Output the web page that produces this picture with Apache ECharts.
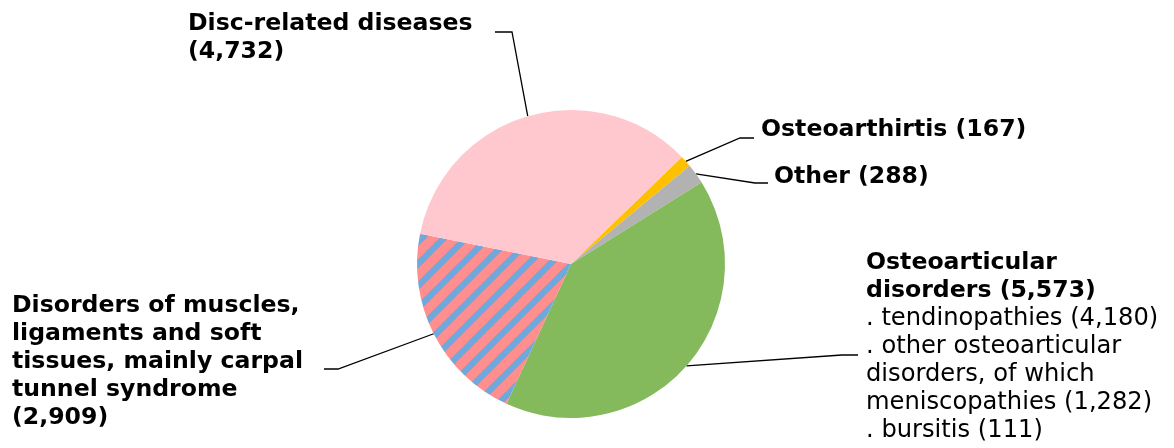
<!DOCTYPE html>
<html>
<head>
<meta charset="utf-8">
<script src="https://cdn.jsdelivr.net/npm/echarts@6/dist/echarts.min.js"></script>
<style>
  html, body { margin: 0; padding: 0; background: #fff; }
  #main { width: 1174px; height: 448px; }
</style>
</head>
<body>
<div id="main"></div>
<script>
// 扇区顺序：从右上方开始顺时针
const categories = [
  'Osteoarthirtis',
  'Other',
  'Osteoarticular disorders',
  'Disorders of muscles, ligaments and soft tissues, mainly carpal tunnel syndrome',
  'Disc-related diseases'
];
const values = [167, 288, 5573, 2909, 4732];
const colors = ['#FFC000', '#B2B2B2', '#84BA5B', '#FF8F8F', '#FFC7CE'];

// 标签文字（粗体行 / 普通行）
const boldLines = [
  ['Osteoarthirtis (167)'],
  ['Other (288)'],
  ['Osteoarticular', 'disorders (5,573)'],
  ['Disorders of muscles,', 'ligaments and soft', 'tissues, mainly carpal', 'tunnel syndrome', '(2,909)'],
  ['Disc-related diseases', '(4,732)']
];
const normalLines = [
  [],
  [],
  ['. tendinopathies (4,180)', '. other osteoarticular', 'disorders, of which', 'meniscopathies (1,282)', '. bursitis (111)'],
  [],
  []
];

// 标签位置 + 引导线折点
const labelPos = [
  { x: 761, y: 130, v: 'middle', pts: [[740, 138], [754, 138]] },
  { x: 774, y: 177, v: 'middle', pts: [[755, 183], [768, 183]] },
  { x: 866, y: 249, v: 'top', pts: [[842, 355], [858, 355]] },
  { x: 12, y: 292, v: 'top', pts: [[338, 369], [324, 369]] },
  { x: 188, y: 10, v: 'top', pts: [[512, 32], [495, 32]] }
];

// 斜条纹填充
function stripePattern(bg, fg) {
  const s = 22;
  const c = document.createElement('canvas');
  c.width = s;
  c.height = s;
  const ctx = c.getContext('2d');
  ctx.fillStyle = bg;
  ctx.fillRect(0, 0, s, s);
  ctx.strokeStyle = fg;
  ctx.lineWidth = 6.5;
  for (let k = 0; k <= 2; k++) {
    ctx.beginPath();
    ctx.moveTo(k * s + 2, -2);
    ctx.lineTo(k * s - s - 2, s + 2);
    ctx.stroke();
  }
  return { image: c, repeat: 'repeat' };
}

const chart = echarts.init(document.getElementById('main'));

const data = categories.map((name, i) => {
  const txt = boldLines[i].map(s => '{b|' + s + '}')
    .concat(normalLines[i].map(s => '{n|' + s + '}'))
    .join('\n');
  return {
    name: name,
    value: values[i],
    itemStyle: { color: i === 3 ? stripePattern(colors[i], '#6FA8DC') : colors[i] },
    label: { formatter: txt }
  };
});

const option = {
  aria: { enabled: false },
  animation: false,
  series: [
    {
      type: 'pie',
      center: [571, 264],
      radius: [0, 154],
      startAngle: 44,
      clockwise: true,
      avoidLabelOverlap: false,
      itemStyle: { borderWidth: 0 },
      label: {
        show: true,
        position: 'outside',
        color: '#000',
        fontFamily: 'DejaVu Sans',
        rich: {
          b: { fontFamily: 'DejaVu Sans', fontWeight: 'bold', fontSize: 23.6, lineHeight: 28, color: '#000' },
          n: { fontFamily: 'DejaVu Sans', fontSize: 24.2, lineHeight: 28, color: '#000' }
        }
      },
      labelLine: {
        show: true,
        length: 20,
        length2: 10,
        lineStyle: { color: '#000', width: 1.3 }
      },
      labelLayout: function (params) {
        const p = labelPos[params.dataIndex];
        const start = params.labelLinePoints ? params.labelLinePoints[0] : null;
        const res = { x: p.x, y: p.y, align: 'left', verticalAlign: p.v };
        if (start) {
          res.labelLinePoints = [start].concat(p.pts);
        }
        return res;
      },
      emphasis: { disabled: true },
      data: data
    }
  ]
};

chart.setOption(option);
</script>
</body>
</html>
